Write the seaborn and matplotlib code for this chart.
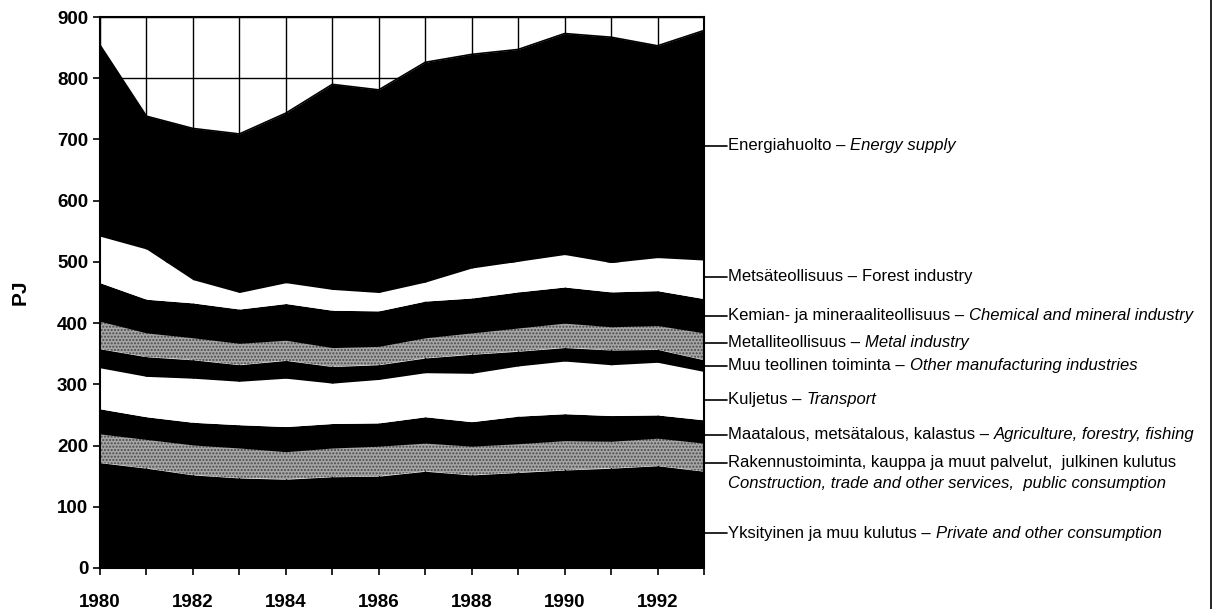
import matplotlib
matplotlib.use('Agg')
import matplotlib.pyplot as plt
import matplotlib.transforms as mtransforms
from matplotlib.lines import Line2D
import pandas as pd
import seaborn as sns

# Energy consumption by sector, PJ
years = list(range(1980, 1994))
private = [172, 163, 152, 147, 145, 149, 150, 158, 152, 156, 160, 163, 167, 158]
construction = [47, 47, 49, 49, 45, 47, 49, 46, 47, 47, 48, 44, 45, 46]
agriculture = [41, 37, 37, 38, 41, 40, 38, 43, 40, 45, 44, 42, 38, 38]
transport = [67, 66, 72, 71, 79, 66, 71, 72, 79, 82, 86, 83, 86, 79]
other_manuf = [31, 32, 30, 27, 29, 27, 24, 24, 31, 24, 22, 24, 21, 19]
metal = [45, 39, 36, 35, 33, 31, 30, 33, 35, 38, 40, 38, 39, 44]
chemical = [63, 55, 57, 56, 60, 61, 58, 60, 57, 59, 59, 57, 57, 56]
forest = [76, 82, 38, 27, 34, 34, 30, 31, 49, 50, 53, 48, 54, 63]
energy = [312, 217, 247, 259, 277, 335, 331, 359, 349, 346, 361, 368, 346, 375]

# labels: Finnish part + English part
labels_fi = ['Yksityinen ja muu kulutus – ',
             'Rakennustoiminta, kauppa ja muut palvelut,  julkinen kulutus',
             'Maatalous, metsätalous, kalastus – ',
             'Kuljetus – ',
             'Muu teollinen toiminta – ',
             'Metalliteollisuus – ',
             'Kemian- ja mineraaliteollisuus – ',
             'Metsäteollisuus – ',
             'Energiahuolto – ']
labels_en = ['Private and other consumption',
             'Construction, trade and other services,  public consumption',
             'Agriculture, forestry, fishing',
             'Transport',
             'Other manufacturing industries',
             'Metal industry',
             'Chemical and mineral industry',
             'Forest industry',
             'Energy supply']

df = pd.DataFrame({'year': years, 'private': private, 'construction': construction,
                   'agriculture': agriculture, 'transport': transport,
                   'other_manuf': other_manuf, 'metal': metal, 'chemical': chemical,
                   'forest': forest, 'energy': energy})
series = ['private', 'construction', 'agriculture', 'transport', 'other_manuf',
          'metal', 'chemical', 'forest', 'energy']

sns.set_style('ticks')
plt.rcParams['font.family'] = ['Liberation Sans', 'DejaVu Sans']
plt.rcParams['text.color'] = 'black'
plt.rcParams['axes.labelcolor'] = 'black'
plt.rcParams['hatch.linewidth'] = 1.0

fig = plt.figure(figsize=(12.28, 6.09), dpi=100)
ax = fig.add_axes([100 / 1228, 41 / 609, 604 / 1228, 551 / 609])

fills = ['black', '#a6a6a6', 'black', 'white', 'black', '#a6a6a6', 'black', 'white', 'black']
hatches = [None, '.....', None, None, None, '.....', None, None, None]
polys = ax.stackplot(df['year'], *[df[s] for s in series], colors=fills, linewidth=0)
for p, h in zip(polys, hatches):
    if h:
        p.set_hatch(h)
        p.set_edgecolor('#4a4a4a')

# outline of the total
sns.lineplot(x=df['year'], y=df[series].sum(axis=1), color='black', lw=1.2, ax=ax)

ax.set_xlim(1980, 1993)
ax.set_ylim(0, 900)
ax.set_xticks(years)
ax.set_xticklabels([str(y) if y % 2 == 0 else '' for y in years])
ax.set_yticks(range(0, 901, 100))
ax.set_axisbelow(True)
ax.grid(True, color='black', lw=1)
ax.tick_params(axis='both', direction='out', length=5, width=1.2, color='black',
               labelsize=13.5, labelcolor='black')
ax.tick_params(axis='x', pad=14)
for t in ax.get_xticklabels() + ax.get_yticklabels():
    t.set_fontweight('bold')
for sp in ax.spines.values():
    sp.set_visible(True)
    sp.set_color('black')
    sp.set_linewidth(1.5)
ax.set_xlabel('')
ax.set_ylabel('PJ', fontsize=15, fontweight='bold', labelpad=20, color='black')

# right hand labels with leader lines
label_y = [57, 172, 218, 275, 330, 368, 412, 476, 690]
trans = mtransforms.blended_transform_factory(ax.transAxes, ax.transData)
lab_size = 12
for s, fi, en, yv in zip(series, labels_fi, labels_en, label_y):
    ax.plot([1.0, 1.038], [yv, yv], color='black', lw=1.2, transform=trans, clip_on=False)
    t1 = ax.text(1.040, yv, fi, transform=trans, va='center', ha='left',
                 fontsize=lab_size, color='black')
    if s == 'construction':
        ax.annotate(en, xy=(0, 0), xycoords=t1, xytext=(0, -4), textcoords='offset points',
                    va='top', ha='left', fontsize=lab_size, style='italic', color='black')
    else:
        ax.annotate(en, xy=(1, 0.5), xycoords=t1, va='center', ha='left', fontsize=lab_size,
                    style='normal' if s == 'forest' else 'italic', color='black')

fig.add_artist(Line2D([1211 / 1228, 1211 / 1228], [0, 1], color='black', lw=1.2))

fig.savefig('out.png', dpi=100)
